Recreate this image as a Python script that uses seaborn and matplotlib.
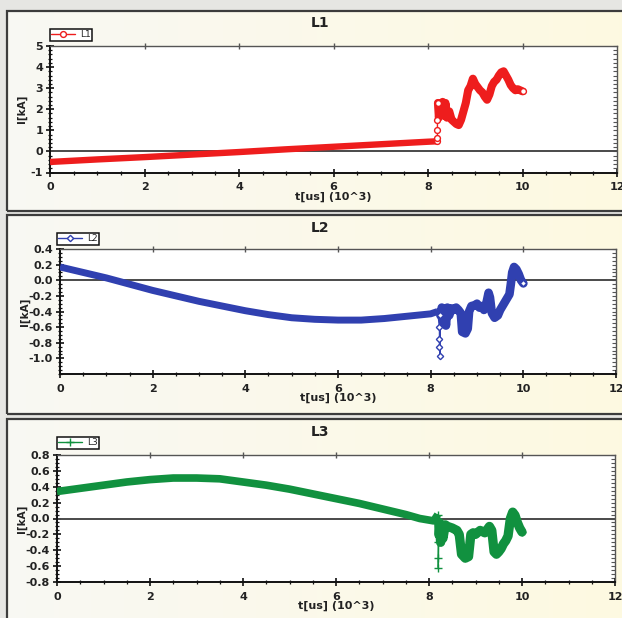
import matplotlib
matplotlib.use("Agg")
import matplotlib.pyplot as plt
import seaborn as sns
import numpy as np
import pandas as pd
from matplotlib.lines import Line2D
from matplotlib.patches import Rectangle
from matplotlib.ticker import MultipleLocator, FormatStrFormatter

# ---------------- data ----------------
titles = ["L1", "L2", "L3"]
x_label = "t[us] (10^3)"
y_label = "I[kA]"
x_ticks = [0, 2, 4, 6, 8, 10, 12]

L1_t = [0.0, 1.0, 2.0, 3.0, 4.0, 5.0, 6.0, 7.0, 8.0, 8.19,
        8.20, 8.20, 8.20, 8.21, 8.23, 8.25, 8.28, 8.31, 8.34, 8.37,
        8.40, 8.45, 8.50, 8.55, 8.60, 8.65, 8.70, 8.75, 8.80, 8.85,
        8.90, 8.95, 9.00, 9.05, 9.10, 9.15, 9.20, 9.25, 9.30, 9.35,
        9.40, 9.45, 9.50, 9.55, 9.60, 9.65, 9.70, 9.75, 9.80, 9.85,
        9.90, 9.95, 10.0]
L1_v = [-0.50, -0.38, -0.27, -0.15, -0.03, 0.10, 0.22, 0.34, 0.46, 0.48,
        0.62, 1.00, 1.50, 2.30, 1.60, 2.20, 1.90, 2.35, 1.70, 2.30,
        1.60, 1.90, 1.50, 1.40, 1.30, 1.25, 1.50, 1.90, 2.30, 2.90,
        3.10, 3.45, 3.20, 3.05, 2.90, 2.80, 2.60, 2.45, 2.70, 3.10,
        3.30, 3.40, 3.60, 3.75, 3.80, 3.60, 3.40, 3.15, 3.00, 2.90,
        2.95, 2.90, 2.85]

L2_t = [0.0, 0.5, 1.0, 1.5, 2.0, 2.5, 3.0, 3.5, 4.0, 4.5,
        5.0, 5.5, 6.0, 6.5, 7.0, 7.5, 8.0, 8.15, 8.19, 8.19,
        8.19, 8.20, 8.21, 8.24, 8.27, 8.30, 8.33, 8.36, 8.40, 8.45,
        8.50, 8.55, 8.60, 8.65, 8.68, 8.75, 8.80, 8.83, 8.88, 8.95,
        9.00, 9.05, 9.10, 9.15, 9.20, 9.25, 9.28, 9.32, 9.38, 9.45,
        9.50, 9.55, 9.60, 9.65, 9.70, 9.73, 9.76, 9.80, 9.85, 9.90,
        9.95, 10.0]
L2_v = [0.17, 0.10, 0.03, -0.05, -0.13, -0.20, -0.27, -0.33, -0.39, -0.44,
        -0.48, -0.50, -0.51, -0.51, -0.49, -0.46, -0.43, -0.40, -0.60, -0.75,
        -0.85, -0.97, -0.45, -0.35, -0.55, -0.38, -0.58, -0.35, -0.45, -0.36,
        -0.38, -0.35, -0.38, -0.42, -0.66, -0.68, -0.62, -0.40, -0.33, -0.32,
        -0.30, -0.35, -0.33, -0.38, -0.30, -0.16, -0.22, -0.42, -0.48, -0.45,
        -0.38, -0.33, -0.28, -0.23, -0.18, -0.05, 0.10, 0.17, 0.14, 0.08,
        0.00, -0.04]

L3_t = [0.0, 0.5, 1.0, 1.5, 2.0, 2.5, 3.0, 3.5, 4.0, 4.5,
        5.0, 5.5, 6.0, 6.5, 7.0, 7.5, 7.8, 8.1, 8.19, 8.20,
        8.20, 8.20, 8.21, 8.22, 8.25, 8.28, 8.30, 8.35, 8.40, 8.50,
        8.60, 8.65, 8.70, 8.78, 8.85, 8.90, 8.95, 9.00, 9.10, 9.20,
        9.30, 9.35, 9.40, 9.45, 9.50, 9.55, 9.60, 9.65, 9.70, 9.75,
        9.80, 9.85, 9.90, 9.95, 10.0]
L3_v = [0.34, 0.38, 0.42, 0.46, 0.49, 0.51, 0.51, 0.50, 0.46, 0.42,
        0.37, 0.31, 0.25, 0.19, 0.12, 0.05, 0.00, -0.03, 0.05, -0.30,
        -0.50, -0.62, -0.20, -0.05, -0.30, -0.10, -0.25, -0.08, -0.10, -0.12,
        -0.15, -0.20, -0.45, -0.50, -0.48, -0.20, -0.18, -0.20, -0.15, -0.18,
        -0.10, -0.15, -0.42, -0.45, -0.42, -0.38, -0.32, -0.28, -0.22, 0.00,
        0.08, 0.04, -0.05, -0.12, -0.17]

# ---------------- layout ----------------
W, H = 622, 618
sns.set_theme(style="white")
plt.rcParams['font.family'] = ['Liberation Sans Narrow', 'DejaVu Sans']

fig = plt.figure(figsize=(W / 100, H / 100), dpi=100)
fig.patch.set_facecolor('#e6e6e3')


def frect(x0, y0, x1, y1):
    return [x0 / W, 1 - y1 / H, (x1 - x0) / W, (y1 - y0) / H]


panels = [(7, 11, 640, 211), (7, 215, 640, 414), (7, 419, 640, 640)]
axes_px = [(50, 46, 617, 172.5), (60, 249, 616, 374), (57, 455, 615, 582)]
title_y = [23, 228, 432]
legend_px = [(50, 29), (57, 233), (57, 437)]
ylab_x = [22, 25, 22]
xlab_gap = 24

series = [
    dict(t=L1_t, v=L1_v, color='#ee1d1d', marker='o', ms=4.2, lw=4.6,
         cut=(8.19, 8.21), ylim=(-1, 5), major=1, minor=0.2, fmt='%d'),
    dict(t=L2_t, v=L2_v, color='#3040b0', marker='D', ms=3.2, lw=5.0,
         cut=(8.15, 8.21), ylim=(-1.2, 0.4), major=0.2, minor=0.05, fmt='%.1f'),
    dict(t=L3_t, v=L3_v, color='#11913f', marker='+', ms=6, lw=5.5,
         cut=(8.19, 8.21), ylim=(-0.8, 0.8), major=0.2, minor=0.05, fmt='%.1f'),
]

# gradient background for panels
grad = np.linspace(0, 1, 256)[None, :, None]
c0 = np.array([0.975, 0.975, 0.955])
c1 = np.array([0.995, 0.978, 0.88])
img = c0 * (1 - grad) + c1 * grad

for i, (p, a, s) in enumerate(zip(panels, axes_px, series)):
    bg = fig.add_axes(frect(*p), zorder=0)
    bg.imshow(img, aspect='auto', extent=(0, 1, 0, 1))
    bg.set_axis_off()
    fig.patches.append(Rectangle((p[0] / W, 1 - p[3] / H), (p[2] - p[0]) / W,
                                 (p[3] - p[1]) / H, transform=fig.transFigure,
                                 fill=False, edgecolor='#3c3c3c', lw=1.6, zorder=5))

    ax = fig.add_axes(frect(*a), zorder=2)
    ax.set_facecolor('white')
    df = pd.DataFrame({'t': s['t'], 'v': s['v']})
    n = len(df)
    idx = np.arange(n)
    # thick band: before and after the switching spike (the spike itself is thin)
    k_lo = max(k for k in range(n) if s['t'][k] <= s['cut'][0] and
               (k + 1 < n and s['t'][k + 1] > s['t'][k] or s['t'][k] < 8.185))
    seg = np.full(n, -1)
    seg[: k_lo + 1] = 0
    first_post = min(k for k in range(n) if s['t'][k] >= s['cut'][1])
    seg[first_post:] = 1
    df['seg'] = seg
    thick = df[df['seg'] >= 0]
    sns.lineplot(data=thick[thick.seg == 0], x='t', y='v', ax=ax, sort=False,
                 estimator=None, color=s['color'], lw=s['lw'],
                 solid_joinstyle='round', solid_capstyle='butt', zorder=3)
    sns.lineplot(data=thick[thick.seg == 1], x='t', y='v', ax=ax, sort=False,
                 estimator=None, color=s['color'], lw=s['lw'] + 1.2,
                 solid_joinstyle='round', solid_capstyle='round', zorder=3)
    jump = [k for k in range(n) if 8.185 <= s['t'][k] <= 8.215] + [n - 1]
    mfc = s['color'] if s['marker'] == '+' else 'white'
    sns.lineplot(data=df, x='t', y='v', ax=ax, sort=False, estimator=None,
                 color=s['color'], lw=1.0, marker=s['marker'], markevery=jump,
                 ms=s['ms'], mfc=mfc, mec=s['color'], mew=1.0, zorder=4)
    ax.axhline(0, color='#4a4a4a', lw=1.4, zorder=2)

    ax.set_xlim(0, 12)
    ax.set_xticks(x_ticks)
    ax.xaxis.set_minor_locator(MultipleLocator(0.5))
    ax.yaxis.set_major_locator(MultipleLocator(s['major']))
    ax.yaxis.set_minor_locator(MultipleLocator(s['minor']))
    ax.yaxis.set_major_formatter(FormatStrFormatter(s['fmt']))
    if i == 1:
        ax.set_yticks([0.4, 0.2, 0.0, -0.2, -0.4, -0.6, -0.8, -1.0])
    ax.set_ylim(*s['ylim'])
    ax.set_xlabel('')
    ax.set_ylabel('')

    for sp in ['left', 'bottom']:
        ax.spines[sp].set_color('#111111')
        ax.spines[sp].set_linewidth(1.4)
    for sp in ['top', 'right']:
        ax.spines[sp].set_color('#555555')
        ax.spines[sp].set_linewidth(1.0)
        ax.spines[sp].set_visible(True)

    ax.tick_params(axis='both', which='major', direction='inout', length=6,
                   width=1.2, color='#111111', labelsize=8, labelcolor='#222222',
                   left=True, bottom=True, pad=2)
    ax.tick_params(axis='both', which='minor', direction='inout', length=3.5,
                   width=0.9, color='#111111', left=True, bottom=True)
    ax.tick_params(axis='x', which='major', pad=4)
    for lab in ax.get_xticklabels() + ax.get_yticklabels():
        lab.set_fontweight('bold')

    # right: minor ticks inward ; top: major ticks
    sec_r = ax.secondary_yaxis('right')
    sec_r.yaxis.set_major_locator(MultipleLocator(s['major']))
    sec_r.yaxis.set_minor_locator(MultipleLocator(s['minor']))
    sec_r.tick_params(which='both', direction='in', length=3, width=0.8,
                      color='#555555', labelright=False)
    sec_r.spines['right'].set_visible(False)
    sec_t = ax.secondary_xaxis('top')
    sec_t.set_xticks(x_ticks[1:-1])
    sec_t.xaxis.set_minor_locator(MultipleLocator(0.5))
    sec_t.tick_params(which='major', direction='inout', length=4, width=1.0,
                      color='#555555', labeltop=False)
    sec_t.tick_params(which='minor', length=0)
    sec_t.spines['top'].set_visible(False)

    # texts
    fig.text(320 / W, 1 - title_y[i] / H, titles[i], ha='center', va='center',
             fontsize=10, fontweight='bold', color='#222222')
    fig.text(ylab_x[i] / W, 1 - (a[1] + a[3]) / 2 / H, y_label, rotation=90,
             ha='center', va='center', fontsize=7.5, fontweight='bold',
             color='#222222')
    fig.text((a[0] + a[2]) / 2 / W, 1 - (a[3] + xlab_gap) / H, x_label,
             ha='center', va='center', fontsize=8, fontweight='bold',
             color='#222222')

    handle = Line2D([], [], color=s['color'], lw=1.0, marker=s['marker'],
                    ms=s['ms'], mfc=mfc, mec=s['color'], mew=1.0)
    lx, ly = legend_px[i]
    leg = fig.legend([handle], [titles[i]], loc='upper left',
                     bbox_to_anchor=(lx / W, 1 - ly / H), fontsize=6.5,
                     frameon=True, fancybox=False, borderpad=0.15,
                     handlelength=2.6, handletextpad=0.6, borderaxespad=0,
                     edgecolor='#111111', facecolor='white', framealpha=1)
    leg.get_frame().set_linewidth(1.1)

fig.savefig('out.png', dpi=100, facecolor=fig.get_facecolor())
